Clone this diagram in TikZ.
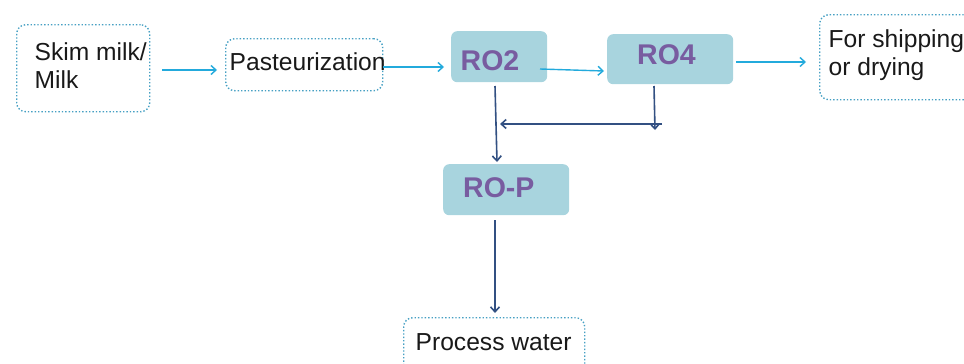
\documentclass[tikz,border=0pt]{standalone}
\usepackage{fontspec}
\setmainfont{Liberation Sans}
\usetikzlibrary{arrows.meta}
\definecolor{dotcol}{RGB}{70,160,195}
\definecolor{fillcol}{RGB}{168,212,222}
\definecolor{rocol}{RGB}{120,92,160}
\definecolor{cyanarr}{RGB}{35,170,220}
\definecolor{darkarr}{RGB}{50,80,130}
\definecolor{txtcol}{RGB}{25,25,25}
\tikzset{
  dotbox/.style={draw=dotcol, line width=1.4pt, dotted, rounded corners=9pt, inner sep=0pt, anchor=north west},
  robox/.style={fill=fillcol, rounded corners=6pt, inner sep=0pt, anchor=north west},
  plaintxt/.style={inner sep=0pt, text=txtcol, font=\fontsize{24.6}{28.5}\selectfont},
  rotxt/.style={inner sep=0pt, text=rocol, font=\bfseries\fontsize{28.5}{32}\selectfont, anchor=base west},
  cyanline/.style={draw=cyanarr, line width=1.4pt, -{Straight Barb[length=5pt,width=9pt,line width=1.4pt]}},
  darkline/.style={draw=darkarr, line width=1.6pt, -{Straight Barb[length=5pt,width=9pt,line width=1.6pt]}},
  darkplain/.style={draw=darkarr, line width=1.6pt}
}
\begin{document}
\begin{tikzpicture}[x=1pt,y=-1pt]
\useasboundingbox (0,0) rectangle (964,364);
% boxes
\node[dotbox, minimum width=133pt, minimum height=87pt] (skim) at (16,24) {};
\node[dotbox, minimum width=157pt, minimum height=52pt] (past) at (225,38) {};
\node[robox, minimum width=96pt, minimum height=51pt] (ro2) at (451,31) {};
\node[robox, minimum width=126pt, minimum height=50pt] (ro4) at (607,34) {};
\node[dotbox, minimum width=170pt, minimum height=85pt] (ship) at (819,14) {};
\node[robox, minimum width=126pt, minimum height=51pt] (rop) at (443,164) {};
\node[dotbox, minimum width=181pt, minimum height=70pt] (water) at (403,317) {};
% texts
\node[plaintxt, align=left, anchor=north west] (tskim) at (34.5,42) {Skim milk/\\Milk};
\node[plaintxt, anchor=base west] (tpast) at (229.5,70) {Pasteurization};
\node[rotxt] (tro2) at (460.5,70) {RO2};
\node[rotxt] (tro4) at (637,64) {RO4};
\node[plaintxt, align=left, anchor=north west] (tship) at (828.5,29) {For shipping\\or drying};
\node[rotxt] (trop) at (463,197) {RO-P};
\node[plaintxt, anchor=base west] (twater) at (415.5,350) {Process water};
% connector coordinates
\coordinate (a1) at (162,70);  \coordinate (a2) at (217,70);
\coordinate (b1) at (383,67);  \coordinate (b2) at (444,67);
\coordinate (c1) at (540,69);  \coordinate (c2) at (604,71);
\coordinate (d1) at (736,62);  \coordinate (d2) at (806,62);
\coordinate (e1) at (495,86);  \coordinate (e2) at (497,162);
\coordinate (f1) at (654,86);  \coordinate (f2) at (655,130);
\coordinate (g1) at (662,124); \coordinate (g2) at (500,124);
\coordinate (h1) at (495,220); \coordinate (h2) at (495,313);
% connectors
\draw[cyanline] (a1) -- (a2);
\draw[cyanline] (b1) -- (b2);
\draw[cyanline] (c1) -- (c2);
\draw[cyanline] (d1) -- (d2);
\draw[darkline] (e1) -- (e2);
\draw[darkline] (f1) -- (f2);
\draw[darkline] (g1) -- (g2);
\draw[darkline] (h1) -- (h2);
\end{tikzpicture}
\end{document}
